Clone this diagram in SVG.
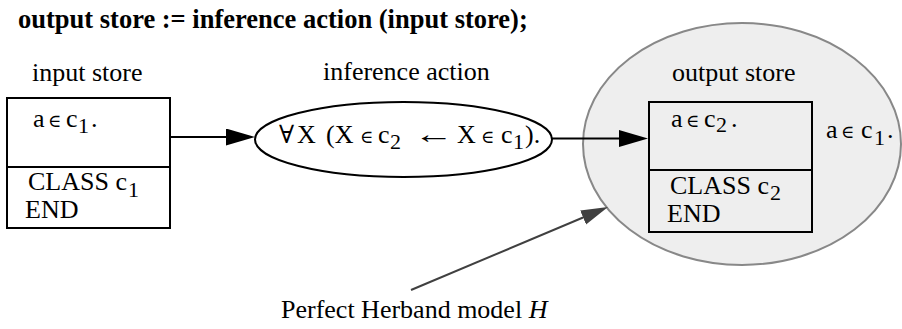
<svg xmlns="http://www.w3.org/2000/svg" width="902" height="329" viewBox="0 0 902 329">
<style>
text{font-family:"Liberation Serif","DejaVu Serif",serif;font-size:26px;fill:#000}
.title{font-weight:bold;font-size:26.5px}
.box{fill:none;stroke:#000;stroke-width:2}
.sub{font-size:22px}
.el{font-size:18px;font-family:"DejaVu Serif","Liberation Serif",serif}
.con{stroke:#000;stroke-width:2;fill:none}
.gcon{stroke:#404040;stroke-width:2;fill:none}
</style>
<defs>
<marker id="ah" markerUnits="userSpaceOnUse" markerWidth="30" markerHeight="18" refX="20" refY="8.5" orient="auto" viewBox="0 0 30 18">
<path d="M0,0 L29,8.5 L0,17 z" fill="#000"/>
</marker>
<marker id="gah" markerUnits="userSpaceOnUse" markerWidth="30" markerHeight="18" refX="18" refY="7.5" orient="auto" viewBox="0 0 30 18">
<path d="M0,0 L27,7.5 L0,15 z" fill="#404040"/>
</marker>
</defs>
<text class="title" x="18" y="28">output store := inference action (input store);</text>
<g id="output-store">
<ellipse cx="742" cy="144" rx="159" ry="121" fill="#eeeeee" stroke="#888888" stroke-width="2"/>
<text x="672" y="81">output store</text>
<rect class="box" x="649" y="102" width="163" height="130"/>
<line class="box" x1="649" y1="170" x2="812" y2="170"/>
<text y="127"><tspan x="671">a</tspan><tspan class="el" x="686">∈</tspan><tspan x="704">c</tspan><tspan class="sub" x="716" dy="5">2</tspan><tspan x="731" dy="-5">.</tspan></text>
<text x="670" y="194">CLASS c<tspan class="sub" dx="1" dy="6">2</tspan></text>
<text x="667" y="222">END</text>
<text y="138"><tspan x="826">a</tspan><tspan class="el" x="841">∈</tspan><tspan x="861">c</tspan><tspan class="sub" x="874" dy="7">1</tspan><tspan x="887" dy="-7">.</tspan></text>
</g>
<g id="input-store">
<text x="32" y="81">input store</text>
<rect class="box" x="7" y="98" width="163" height="130"/>
<line class="box" x1="7" y1="167" x2="170" y2="167"/>
<text y="127"><tspan x="33">a</tspan><tspan class="el" x="48">∈</tspan><tspan x="66">c</tspan><tspan class="sub" x="78" dy="6">1</tspan><tspan x="91" dy="-6">.</tspan></text>
<text x="28" y="190">CLASS c<tspan class="sub" dx="1" dy="7">1</tspan></text>
<text x="25" y="218">END</text>
</g>
<g id="inference-action">
<text x="323" y="80">inference action</text>
<ellipse cx="403.5" cy="139.5" rx="148.5" ry="37.5" fill="none" stroke="#000" stroke-width="2"/>
<text y="143"><tspan x="279" font-size="25" font-family="DejaVu Serif, serif">∀</tspan><tspan x="297">X</tspan><tspan x="326">(X</tspan><tspan class="el" x="360">∈</tspan><tspan x="378">c</tspan><tspan class="sub" x="390" dy="6">2</tspan><tspan x="457" dy="-6">X</tspan><tspan class="el" x="481">∈</tspan><tspan x="501">c</tspan><tspan class="sub" x="513" dy="6">1</tspan><tspan x="525" dy="-6">).</tspan></text>
<text x="414" y="143" textLength="40" lengthAdjust="spacingAndGlyphs">←</text>
</g>
<g id="herband-label">
<text x="281" y="318">Perfect Herband model <tspan font-style="italic">H</tspan></text>
</g>
<g id="connectors">
<line class="con" x1="170" y1="137" x2="246" y2="137" marker-end="url(#ah)"/>
<line class="con" x1="552" y1="138.5" x2="639" y2="138.5" marker-end="url(#ah)"/>
<line class="gcon" x1="411" y1="290" x2="599.7" y2="210.5" marker-end="url(#gah)"/>
</g>
</svg>
